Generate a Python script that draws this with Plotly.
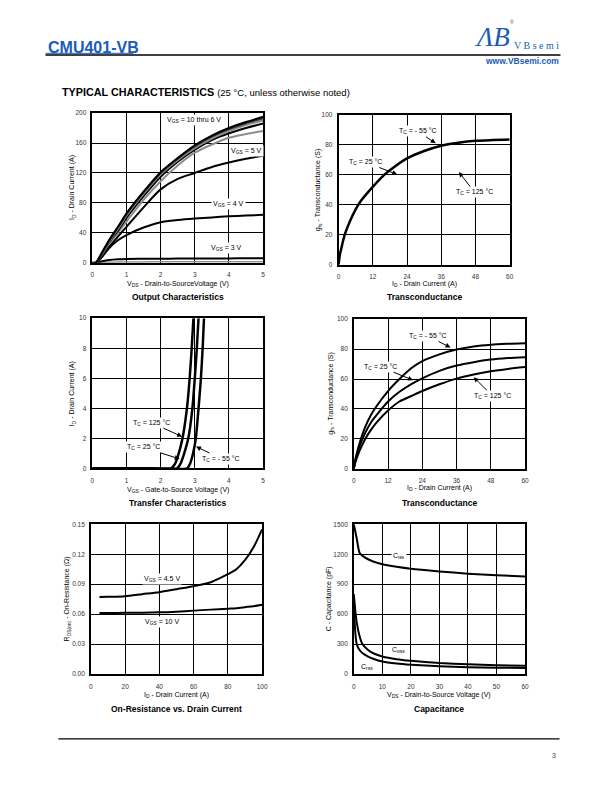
import plotly.graph_objects as go

# page is 612x792; the html body has an 8px margin, so the figure is 596x776
PAGE_OFF = 8
W, H = 612 - 2 * PAGE_OFF, 792 - 2 * PAGE_OFF

# ---------------- data ----------------
# Output characteristics
vds_out = [0, 0.1, 0.25, 0.5, 0.75, 1, 1.5, 2, 2.5, 3, 3.5, 4, 4.5, 5]
id_vgs10 = [0, 0, 11, 31, 48, 66, 95, 121, 140, 157, 170, 180, 188, 195]
id_vgs9 = [0, 0, 10.5, 30, 47, 65, 94, 120, 139, 155.5, 168.5, 178.5, 186.5, 193]
id_vgs8 = [0, 0, 10, 29, 45, 63, 92, 118, 137, 153, 166, 176, 184, 190]
id_vgs7 = [0, 0, 9.5, 28, 43, 60, 89, 115, 135, 151, 164, 173, 180, 186]
id_vgs6 = [0, 0, 9, 26, 40, 55, 84, 109, 130, 147, 158, 167, 172, 176]
id_vgs5 = [0, 0, 8, 22, 35, 48, 74, 98, 112, 120, 128, 134, 139, 143]
id_vgs4 = [0, 0, 6, 20, 30, 37, 47, 54, 57, 59, 60.5, 62, 63, 64]
id_vgs3 = [0, 0, 1.5, 3.5, 4.5, 5, 5.2, 5.4, 5.5, 5.6, 5.7, 5.8, 5.9, 6]
id_vgs2 = [0, 0, 0.3, 0.6, 0.8, 1, 1.1, 1.2, 1.2, 1.3, 1.3, 1.3, 1.4, 1.4]

# Transconductance (single curve)
id_gfs = [0, 0.5, 1, 2, 4, 6, 8, 12, 16, 20, 24, 30, 36, 42, 48, 54, 60]
gfs_single = [0, 7, 11, 19, 29, 37, 43, 52, 60, 66, 71, 76, 79.5, 81.5, 82.8, 83.3, 83.6]

# Transfer characteristics
id_transfer = [0, 0, 0, 0.3, 1, 2, 4, 6, 8, 10]
vgs_tc125 = [0, 1.5, 2.30, 2.42, 2.53, 2.64, 2.77, 2.85, 2.91, 2.96]
vgs_tc25 = [0, 1.5, 2.48, 2.58, 2.69, 2.81, 2.93, 3.00, 3.06, 3.11]
vgs_tcm55 = [0, 1.5, 2.78, 2.86, 2.95, 3.03, 3.11, 3.18, 3.23, 3.27]

# Transconductance vs temperature
gfs_m55 = [0, 6, 10, 17, 28, 36, 42, 52, 60, 67, 72, 76.5, 79.7, 81.8, 83, 83.6, 84]
gfs_25 = [0, 5, 9, 15, 24, 31, 36, 45, 51.5, 56.5, 60.5, 65.5, 69, 71.3, 73, 74, 74.6]
gfs_125 = [0, 4, 7, 12, 20, 26, 31, 39, 45, 48.5, 52, 56.5, 60.3, 63, 65.2, 66.8, 68]

# On-resistance
id_ron = [5, 10, 20, 30, 40, 50, 60, 70, 80, 85, 90, 95, 100]
ron_vgs45 = [0.0772, 0.0774, 0.078, 0.080, 0.082, 0.085, 0.088, 0.092, 0.100, 0.105, 0.114, 0.127, 0.145]
ron_vgs10 = [0.0612, 0.0612, 0.0613, 0.0615, 0.0618, 0.0625, 0.0635, 0.0645, 0.0655, 0.066, 0.067, 0.068, 0.0695]

# Capacitance
vds_cap = [0, 0.5, 1, 2, 3, 5, 7, 10, 15, 20, 30, 40, 50, 60]
c_iss = [1500, 1430, 1360, 1215, 1185, 1150, 1125, 1100, 1075, 1055, 1028, 1005, 990, 978]
c_oss = [800, 640, 520, 380, 300, 240, 205, 175, 148, 132, 110, 97, 88, 82]
c_rss = [700, 420, 300, 240, 210, 175, 150, 125, 105, 93, 78, 68, 63, 60]

# ---------------- helpers ----------------
FONT = "Liberation Sans, Arial, sans-serif"
NARROW = "Liberation Sans Narrow, Arial Narrow, Liberation Sans, Arial, sans-serif"
SERIF = "Liberation Serif, DejaVu Serif, serif"
BLUE = "#1a5cb8"

def px(x, y):
    return (x - PAGE_OFF) / W, 1 - (y - PAGE_OFF) / H

def dx(l, r):
    return [(l - PAGE_OFF) / W, (r - PAGE_OFF) / W]

def dy(t, b):
    return [1 - (b - PAGE_OFF) / H, 1 - (t - PAGE_OFF) / H]

fig = go.Figure()

def axis(domain, rng, tickvals, anchor, fmt=None, is_x=True):
    d = dict(domain=domain, range=rng, tickvals=tickvals, anchor=anchor,
             showgrid=True, gridcolor="black", gridwidth=1.3,
             showline=True, linecolor="black", linewidth=1.5, mirror=True,
             zeroline=False, ticks="outside", tickcolor="rgba(0,0,0,0)",
             ticklen=5 if is_x else 3,
             tickfont=dict(family=FONT, size=6.5, color="#333333"))
    if fmt:
        d["tickformat"] = fmt
    return d

panels = [
    ("1", (91.5, 264.5), (110, 261), [0, 5], [0, 200], [0, 1, 2, 3, 4, 5], [0, 40, 80, 120, 160, 200], None),
    ("2", (341, 514.5), (112, 263), [0, 60], [0, 100], [0, 12, 24, 36, 48, 60], [0, 20, 40, 60, 80, 100], None),
    ("3", (91.5, 264.5), (317, 468.5), [0, 5], [0, 10], [0, 1, 2, 3, 4, 5], [0, 2, 4, 6, 8, 10], None),
    ("4", (356.5, 530), (318, 469), [0, 60], [0, 100], [0, 12, 24, 36, 48, 60], [0, 20, 40, 60, 80, 100], None),
    ("5", (90, 263.5), (525, 676), [0, 100], [0, 0.15], [0, 20, 40, 60, 80, 100], [0, 0.03, 0.06, 0.09, 0.12, 0.15], ".2f"),
    ("6", (356.5, 530), (525, 676), [0, 60], [0, 1500], [0, 10, 20, 30, 40, 50, 60], [0, 300, 600, 900, 1200, 1500], None),
]

layout_axes = {}
for name, (l, r), (t, b), xr, yr, xt, yt, yfmt in panels:
    xk = "xaxis" if name == "1" else "xaxis" + name
    yk = "yaxis" if name == "1" else "yaxis" + name
    xa = "x" if name == "1" else "x" + name
    ya = "y" if name == "1" else "y" + name
    layout_axes[xk] = axis(dx(l, r), xr, xt, ya, None, True)
    layout_axes[yk] = axis(dy(t, b), yr, yt, xa, yfmt, False)

def add_line(x, y, ax, color="black", width=2, smooth=0.8):
    xa = "x" if ax == "1" else "x" + ax
    ya = "y" if ax == "1" else "y" + ax
    fig.add_trace(go.Scatter(x=x, y=y, mode="lines", xaxis=xa, yaxis=ya,
                             line=dict(color=color, width=width, shape="spline", smoothing=smooth),
                             hoverinfo="skip"))

GRAY = "#8c8c8c"
# panel 1
add_line(vds_out, id_vgs2, "1", GRAY, 1.5)
add_line(vds_out, id_vgs3, "1", "black", 2)
add_line(vds_out, id_vgs4, "1", "black", 2)
add_line(vds_out, id_vgs5, "1", "black", 2)
add_line(vds_out, id_vgs6, "1", GRAY, 2)
add_line(vds_out, id_vgs7, "1", "black", 2)
add_line(vds_out, id_vgs8, "1", GRAY, 2)
add_line(vds_out, id_vgs9, "1", "#333333", 2)
add_line(vds_out, id_vgs10, "1", "black", 2)
# panel 2
add_line(id_gfs, gfs_single, "2", "black", 2.5)
# panel 3
add_line(vgs_tc125, id_transfer, "3", "black", 2.5, 0.5)
add_line(vgs_tc25, id_transfer, "3", "black", 2.5, 0.5)
add_line(vgs_tcm55, id_transfer, "3", "black", 2.5, 0.5)
# panel 4
add_line(id_gfs, gfs_m55, "4", "black", 2)
add_line(id_gfs, gfs_25, "4", "black", 2)
add_line(id_gfs, gfs_125, "4", "black", 2)
# panel 5
add_line(id_ron, ron_vgs45, "5", "black", 2)
add_line(id_ron, ron_vgs10, "5", "black", 2)
# panel 6
add_line(vds_cap, c_iss, "6", "black", 2, 0.6)
add_line(vds_cap, c_oss, "6", "black", 2, 0.6)
add_line(vds_cap, c_rss, "6", "black", 2, 0.6)

ann = []

def text(x, y, s, size=7, bold=False, xanchor="center", color="black", family=FONT, bg=None, angle=0):
    X, Y = px(x, y)
    d = dict(x=X, y=Y, xref="paper", yref="paper", text=("<b>%s</b>" % s) if bold else s,
             showarrow=False, xanchor=xanchor, yanchor="middle", textangle=angle,
             font=dict(family=family, size=size, color=color))
    if bg:
        d["bgcolor"] = bg
        d["borderpad"] = 1
    ann.append(d)

def arrow_label(tx, ty, hx, hy, s, size=7):
    X, Y = px(hx, hy)
    ann.append(dict(x=X, y=Y, xref="paper", yref="paper", text=s, showarrow=True,
                    ax=tx - hx, ay=ty - hy, arrowhead=2, arrowsize=1, arrowwidth=1,
                    arrowcolor="black", bgcolor="white", borderpad=1,
                    font=dict(family=FONT, size=size, color="black")))

# header
text(44, 44, "CMU401-VB", 16, True, "left", BLUE)
text(476, 33, "<i>ΛB</i>", 27, False, "left", BLUE, SERIF)
text(513, 18, "®", 5, False, "left", "#555555")
text(541.5, 42, "V B s e m i", 10, False, "center", BLUE, SERIF)
text(566, 57, "www.VBsemi.com", 8.5, True, "right", BLUE, NARROW)
text(59, 89, "<b>TYPICAL CHARACTERISTICS</b> <span style='font-size:9.5px'>(25 °C, unless otherwise noted)</span>",
     10.8, False, "left")

# chart titles
text(178, 296, "Output Characteristics", 8.5, True, family=NARROW)
text(428, 296, "Transconductance", 8.5, True, family=NARROW)
text(178, 503, "Transfer Characteristics", 8.5, True, family=NARROW)
text(443, 503, "Transconductance", 8.5, True, family=NARROW)
text(177, 711, "On-Resistance vs. Drain Current", 8.5, True, family=NARROW)
text(443, 711, "Capacitance", 8.5, True, family=NARROW)

# axis titles
text(178, 282, "V<sub>DS</sub> - Drain-to-SourceVoltage (V)", 7)
text(428, 282, "I<sub>D</sub> - Drain Current (A)", 7)
text(178, 490, "V<sub>GS</sub> - Gate-to-Source Voltage (V)", 7)
text(443, 488.5, "I<sub>D</sub> - Drain Current (A)", 7)
text(177, 697, "I<sub>D</sub> - Drain Current (A)", 7)
text(443, 697, "V<sub>DS</sub> - Drain-to-Source Voltage (V)", 7)
text(71, 185.5, "I<sub>D</sub> - Drain Current (A)", 7, angle=-90)
text(320.5, 187.5, "g<sub>fs</sub> - Transconductance (S)", 7, angle=-90)
text(70.5, 393, "I<sub>D</sub> - Drain Current (A)", 7, angle=-90)
text(333, 393.5, "g<sub>fs</sub> - Transconductance (S)", 7, angle=-90)
text(66, 600.5, "R<sub>DS(on)</sub> - On-Resistance (Ω)", 7, angle=-90)
text(331.5, 600.5, "C - Capacitance (pF)", 7, angle=-90)

# panel labels
text(195, 117, "V<sub>GS</sub> = 10 thru 6 V", 7, bg="white")
text(248, 148, "V<sub>GS</sub> = 5 V", 7, bg="white")
text(229, 202, "V<sub>GS</sub> = 4 V", 7, bg="white")
text(227, 246, "V<sub>GS</sub> = 3 V", 7, bg="white")

arrow_label(421.5, 128.5, 439.5, 140.5, "T<sub>C</sub> = - 55 °C")
arrow_label(368.5, 159.5, 400.5, 172, "T<sub>C</sub> = 25 °C")
arrow_label(478.5, 189.5, 463, 169.5, "T<sub>C</sub> = 125 °C")

arrow_label(151.5, 422.5, 182.5, 436.5, "T<sub>C</sub> = 125 °C")
arrow_label(143.5, 447.5, 180, 459, "T<sub>C</sub> = 25 °C")
arrow_label(221.5, 458.5, 196.5, 446.5, "T<sub>C</sub> = - 55 °C")

arrow_label(431.5, 335, 454.5, 346.5, "T<sub>C</sub> = - 55 °C")
arrow_label(383.5, 366, 416.5, 379.5, "T<sub>C</sub> = 25 °C")
arrow_label(496.5, 395, 478, 376.5, "T<sub>C</sub> = 125 °C")

text(162, 580, "V<sub>GS</sub> = 4.5 V", 7, bg="white")
text(162, 623.5, "V<sub>GS</sub> = 10 V", 7, bg="white")

text(402, 556.5, "C<sub>iss</sub>", 7, bg="white")
text(402, 651.5, "C<sub>oss</sub>", 7)
text(370, 669, "C<sub>rss</sub>", 7)

# footer
text(563, 758, "3", 7, False, "right", "#444444")

def hline(x0, x1, y, color, width):
    X0, Y = px(x0, y)
    X1, _ = px(x1, y)
    return dict(type="line", xref="paper", yref="paper", x0=X0, x1=X1, y0=Y, y1=Y,
                line=dict(color=color, width=width))

shapes = [
    hline(44, 566, 51.3, "black", 1.5),
    hline(44, 133, 49.7, BLUE, 1),
    hline(57, 565, 741.5, "black", 1.2),
]

fig.update_layout(width=W, height=H, margin=dict(l=0, r=0, t=0, b=0),
                  paper_bgcolor="white", plot_bgcolor="white", showlegend=False,
                  annotations=ann, shapes=shapes, **layout_axes)

fig.write_html("out.html")
